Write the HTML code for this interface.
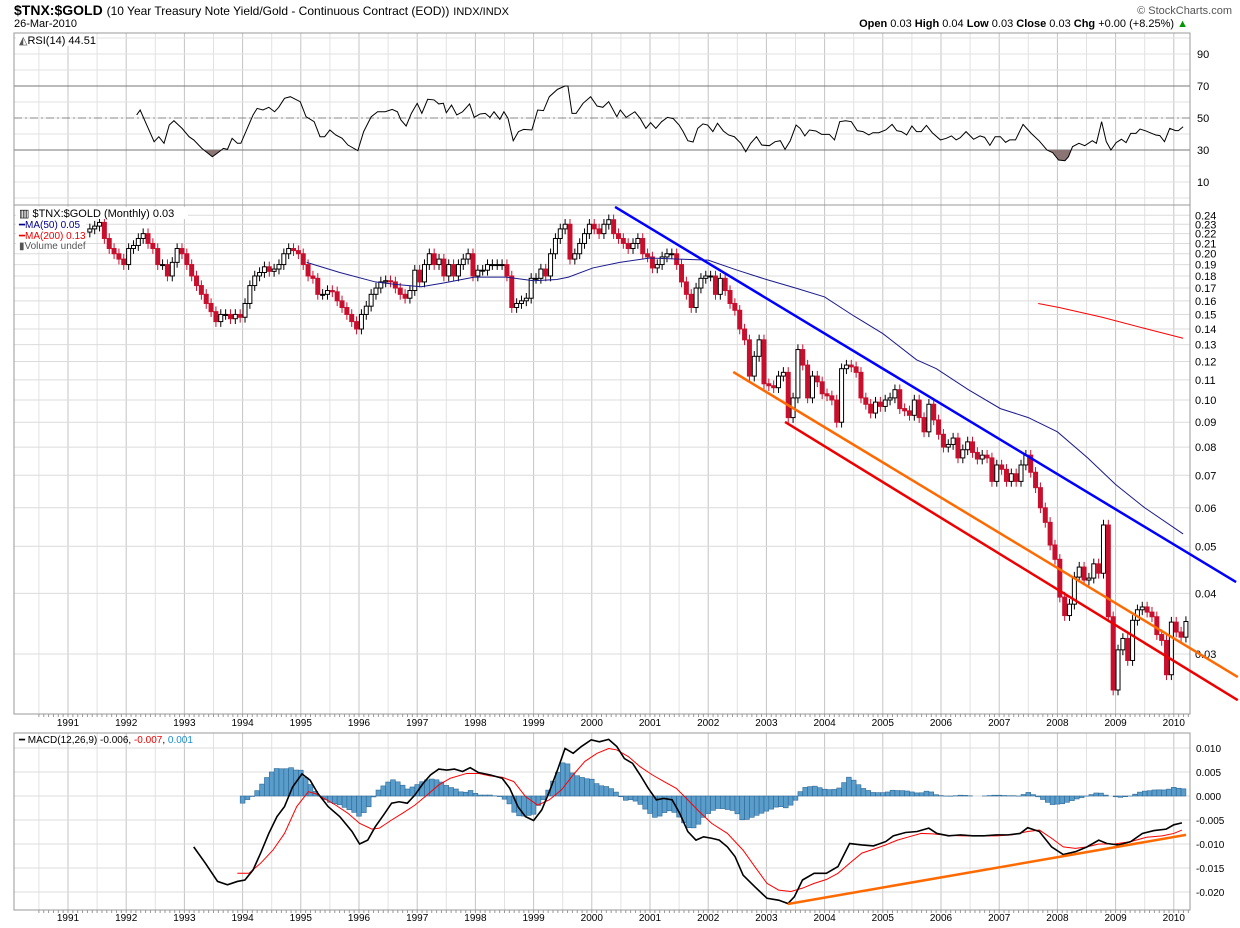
<!DOCTYPE html>
<html><head><meta charset="utf-8">
<style>
html,body{margin:0;padding:0;background:#fff;}
svg{display:block;font-family:"Liberation Sans",sans-serif;}
</style></head>
<body>
<svg id="chart" width="1240" height="928" viewBox="0 0 1240 928" xmlns="http://www.w3.org/2000/svg">
<rect x="0" y="0" width="1240" height="928" fill="#fff"/>
<text x="14" y="15" font-size="14" font-weight="bold">$TNX:$GOLD <tspan font-size="12" font-weight="normal">(10 Year Treasury Note Yield/Gold - Continuous Contract (EOD))</tspan> <tspan font-size="11" font-weight="normal">INDX/INDX</tspan></text>
<text x="14" y="27" font-size="11">26-Mar-2010</text>
<text x="1232" y="14" font-size="11" fill="#555" text-anchor="end">© StockCharts.com</text>
<text x="1188" y="27" font-size="11" text-anchor="end"><tspan font-weight="bold">Open</tspan> 0.03  <tspan font-weight="bold">High</tspan> 0.04  <tspan font-weight="bold">Low</tspan> 0.03  <tspan font-weight="bold">Close</tspan> 0.03  <tspan font-weight="bold">Chg</tspan> +0.00 (+8.25%) <tspan fill="#090">▲</tspan></text>
<g id="grid"></g>
<g id="rsi"></g>
<g id="main"></g>
<g id="macd"></g>
<g id="labels">
<rect x="16" y="34" width="80" height="12" fill="#fff"/>
<text x="19" y="44" font-size="11"><tspan fill="#555">◭</tspan>RSI(14) 44.51</text>
<rect x="16" y="207" width="172" height="12" fill="#fff"/>
<rect x="16" y="219" width="70" height="32" fill="#fff"/>
<text x="19" y="217" font-size="11">▥ $TNX:$GOLD (Monthly) 0.03</text>
<text x="19" y="228" font-size="10" fill="#00008b">━MA(50) 0.05</text>
<text x="19" y="239" font-size="10" fill="#e00">━MA(200) 0.13</text>
<text x="19" y="249" font-size="10" fill="#555">▮Volume undef</text>
<text x="19" y="743" font-size="10">━ MACD(12,26,9) -0.006, <tspan fill="#e00">-0.007</tspan>, <tspan fill="#1a8fd0">0.001</tspan></text>
</g>
</svg>
<script>
// ---------- DATA ----------
const closes1991 = [.225,.228,.232,.215,.205,.2,.195,.19];
const closes1992 = [.205,.208,.215,.22,.21,.205,.19,.19,.18,.192,.205,.2];
const closes1993 = [.19,.18,.172,.165,.158,.152,.145,.15,.15,.147,.15,.148];
const closes1994 = [.158,.172,.18,.183,.188,.184,.186,.19,.2,.205,.203,.2];
const closes1995 = [.19,.18,.178,.165,.165,.168,.167,.16,.155,.15,.145,.14];
const closes1996 = [.15,.156,.165,.17,.175,.176,.175,.17,.165,.162,.168,.185];
const closes1997 = [.175,.19,.2,.19,.195,.18,.19,.18,.19,.195,.2,.18];
const closes1998 = [.185,.185,.19,.19,.19,.19,.18,.155,.158,.16,.162,.178];
const closes1999 = [.178,.186,.18,.2,.215,.225,.23,.195,.2,.21,.22,.23];
const closes2000 = [.225,.22,.23,.235,.22,.215,.21,.205,.21,.215,.2,.197];
const closes2001 = [.187,.19,.197,.2,.2,.19,.175,.165,.155,.17,.178,.18];
const closes2002 = [.18,.165,.178,.168,.158,.153,.14,.133,.112,.123,.133,.108];
const closes2003 = [.107,.106,.112,.114,.092,.101,.127,.118,.101,.112,.109,.103];
const closes2004 = [.102,.1,.09,.116,.118,.117,.114,.101,.098,.094,.099,.097];
const closes2005 = [.1,.101,.105,.096,.095,.093,.1,.092,.086,.098,.091,.085];
const closes2006 = [.08,.081,.0835,.076,.079,.082,.078,.0756,.077,.076,.068,.0735];
const closes2007 = [.072,.068,.0705,.068,.0735,.077,.071,.066,.06,.056,.0503,.047];
const closes2008 = [.0393,.036,.038,.0432,.0453,.0426,.043,.046,.044,.0553,.0358,.0253];
const closes2009 = [.0306,.0323,.0291,.0352,.037,.0375,.0366,.0358,.0329,.032,.0272,.0349];
const closes2010 = [.0333,.0325,.035];
const firstMonth = 1991 + 4/12;

const ma50Years = [1995.1,1995.67,1996.28,1996.62,1997.07,1997.44,1997.98,1998.53,1999.0,1999.4,1999.6,2000.02,2000.48,2001.0,2001.5,2002.0,2002.5,2003.0,2003.5,2004.0,2004.5,2005.0,2005.58,2005.92,2006.47,2007.02,2007.5,2008.0,2008.52,2009.0,2009.5,2010.16];
const ma50Values = [.192,.183,.175,.173,.171,.174,.179,.179,.176,.177,.179,.187,.192,.196,.195,.194,.185,.177,.17,.163,.149,.137,.121,.116,.105,.096,.092,.086,.076,.067,.06,.053];
const ma200Years = [2007.67,2008.03,2008.77,2009.59,2010.16];
const ma200Values = [.158,.155,.148,.1395,.134];

const trendYears = {blue:[2000.4,2011.07], orange:[2002.43,2011.1], red:[2003.32,2011.1]};
const trendValues = {blue:[.2497,.0422], orange:[.1142,.0269], red:[.0901,.0241]};

const priceTicks = [.24,.23,.22,.21,.20,.19,.18,.17,.16,.15,.14,.13,.12,.11,.10,.09,.08,.07,.06,.05,.04,.03];
const yearTicks = [1991,1992,1993,1994,1995,1996,1997,1998,1999,2000,2001,2002,2003,2004,2005,2006,2007,2008,2009,2010];
const rsiTicks = [90,70,50,30,10];
const macdTicks = [0.010,0.005,0.000,-0.005,-0.010,-0.015,-0.020];

const rsiYears = [1992.18,1992.24,1992.34,1992.48,1992.56,1992.65,1992.74,1992.82,1992.96,1993.08,1993.16,1993.30,1993.48,1993.60,1993.67,1993.74,1993.82,1993.91,1993.97,1994.08,1994.18,1994.25,1994.35,1994.45,1994.55,1994.62,1994.72,1994.82,1994.99,1995.09,1995.23,1995.33,1995.41,1995.50,1995.60,1995.71,1995.81,1995.98,1996.08,1996.21,1996.32,1996.45,1996.57,1996.66,1996.72,1996.81,1996.90,1997.00,1997.08,1997.18,1997.29,1997.37,1997.45,1997.50,1997.59,1997.68,1997.78,1997.90,1997.98,1998.08,1998.17,1998.25,1998.32,1998.42,1998.49,1998.56,1998.65,1998.74,1998.83,1998.97,1999.07,1999.17,1999.27,1999.41,1999.54,1999.59,1999.66,1999.73,1999.85,1999.98,2000.09,2000.19,2000.29,2000.43,2000.49,2000.59,2000.74,2000.83,2000.93,2001.01,2001.10,2001.20,2001.30,2001.40,2001.50,2001.57,2001.65,2001.74,2001.82,2001.91,2001.99,2002.08,2002.16,2002.26,2002.35,2002.45,2002.56,2002.645,2002.73,2002.83,2002.92,2003.05,2003.15,2003.24,2003.32,2003.41,2003.51,2003.58,2003.66,2003.74,2003.85,2003.95,2004.08,2004.17,2004.26,2004.36,2004.46,2004.56,2004.66,2004.76,2004.83,2004.93,2005.05,2005.16,2005.24,2005.32,2005.41,2005.50,2005.58,2005.66,2005.75,2005.85,2005.99,2006.09,2006.18,2006.26,2006.33,2006.43,2006.56,2006.67,2006.75,2006.84,2006.93,2007.02,2007.11,2007.18,2007.28,2007.41,2007.55,2007.69,2007.82,2007.92,2008.02,2008.13,2008.19,2008.26,2008.37,2008.47,2008.60,2008.67,2008.76,2008.84,2008.92,2009.01,2009.10,2009.18,2009.26,2009.35,2009.42,2009.52,2009.58,2009.69,2009.76,2009.84,2009.93,2010.03,2010.08,2010.16];
const rsiValues = [51.9,55,46.7,35.2,38.3,34.2,45.6,48.3,43.5,38.3,36.3,31,25.8,29,31,30.4,37.3,34.2,34.2,43.5,51.9,56,55,56.7,53.9,56.7,62.3,63.3,60.2,50.8,47.7,38.3,38.3,42.5,39.4,37.3,33.1,29.6,41.5,50.8,53.9,53.9,55.4,53.9,48.8,45,52.9,59.2,52.9,61.7,61.3,58.8,59.2,53.3,58.1,51.9,53.9,58.8,50.4,52.5,52.9,50.4,53.9,49.2,53.9,49.8,35.8,41.5,42.9,42.5,55,54.6,63.3,67.9,70,70,52.9,52.9,59.2,63.3,57.5,56.7,60.2,50.8,55,50.4,53.9,49.8,43.5,47.1,43.5,47.7,50.4,49.6,45.6,41.5,35.8,35,43.5,46.3,45.6,41.5,46.7,41.9,39.4,38.3,34.2,28.9,34.2,38.3,33.1,32.7,35.2,35.8,30.4,35.8,45.6,43.5,38.8,42.5,41.9,39.8,39.8,36.3,47.7,48.3,47.7,42.1,41.5,39.4,40.8,40.8,42.5,46,42.1,41.5,39.4,45,41.5,41.5,45.4,40.8,36.3,37.3,38.8,36.3,37.7,41.5,36.7,38.8,37.9,32.9,38.3,38.3,34.8,36.3,36.3,46,40.4,35.6,30,28.3,23.75,23.3,25.8,32.1,34.2,32.7,35.8,34.2,47.7,35.2,30,34.6,36.7,34.6,40.4,40.4,43.1,41.9,41,39.4,39,35.2,43.5,42.1,42.1,44.51];

const macdYears = [1993.16,1993.36,1993.57,1993.74,1993.91,1994.04,1994.18,1994.31,1994.45,1994.59,1994.72,1994.86,1995.02,1995.16,1995.29,1995.47,1995.67,1995.88,1996.01,1996.15,1996.28,1996.42,1996.56,1996.69,1996.83,1996.96,1997.10,1997.23,1997.37,1997.51,1997.64,1997.78,1997.91,1998.05,1998.25,1998.46,1998.59,1998.73,1998.86,1999.00,1999.14,1999.27,1999.41,1999.54,1999.68,1999.82,1999.99,2000.13,2000.29,2000.43,2000.56,2000.70,2000.83,2000.97,2001.11,2001.24,2001.38,2001.51,2001.65,2001.79,2001.92,2002.06,2002.19,2002.33,2002.46,2002.60,2002.80,2003.01,2003.21,2003.37,2003.48,2003.62,2003.82,2004.03,2004.23,2004.43,2004.64,2004.84,2005.05,2005.18,2005.39,2005.59,2005.79,2005.93,2006.13,2006.34,2006.54,2006.74,2006.95,2007.15,2007.36,2007.49,2007.69,2007.90,2008.10,2008.31,2008.51,2008.71,2008.85,2009.05,2009.26,2009.46,2009.66,2009.87,2010.00,2010.14];
const macdValues = [-.0106,-.0140,-.0178,-.0185,-.0178,-.0175,-.0154,-.0119,-.0078,-.0043,-.0022,.0019,.0046,.0033,.0006,-.0022,-.0043,-.0074,-.0100,-.0092,-.0064,-.0040,-.0015,-.0012,-.0015,.0002,.0026,.0044,.0056,.0054,.0056,.0051,.0059,.0049,.0044,.0037,.0016,-.0022,-.0043,-.0051,-.0029,.0009,.0054,.0099,.0089,.0103,.0117,.0113,.0118,.0103,.0078,.0068,.0044,.0016,-.0008,-.0005,-.0008,-.0036,-.0074,-.0092,-.0085,-.0088,-.0092,-.0106,-.0126,-.0165,-.0189,-.0213,-.0217,-.0224,-.0210,-.0175,-.0161,-.0161,-.0147,-.0099,-.0102,-.0104,-.0095,-.0083,-.0076,-.0074,-.0067,-.0078,-.0083,-.0081,-.0083,-.0083,-.0081,-.0081,-.0078,-.0066,-.0074,-.0106,-.0122,-.0116,-.0106,-.0092,-.0099,-.0102,-.0095,-.0078,-.0072,-.0069,-.0060,-.0056];
const signalYears = [1993.91,1994.11,1994.31,1994.52,1994.72,1994.93,1995.13,1995.27,1995.40,1995.60,1995.81,1996.01,1996.22,1996.35,1996.56,1996.76,1996.96,1997.17,1997.37,1997.57,1997.85,1998.05,1998.25,1998.46,1998.66,1998.86,1999.07,1999.27,1999.48,1999.68,1999.88,2000.09,2000.29,2000.43,2000.63,2000.83,2001.04,2001.24,2001.45,2001.65,2001.85,2002.06,2002.33,2002.60,2002.80,2003.01,2003.21,2003.42,2003.62,2003.82,2004.03,2004.23,2004.43,2004.64,2004.84,2005.05,2005.25,2005.45,2005.66,2005.86,2006.13,2006.40,2006.68,2006.95,2007.22,2007.49,2007.69,2007.90,2008.10,2008.31,2008.51,2008.71,2008.98,2009.26,2009.53,2009.80,2010.00,2010.14];
const signalValues = [-.0161,-.0161,-.0140,-.0113,-.0078,-.0022,.0009,.0004,-.0005,-.0019,-.0036,-.0057,-.0069,-.0067,-.0050,-.0035,-.0019,.0002,.0023,.0037,.0047,.0047,.0042,.0039,.0030,-.0001,-.0019,-.0008,.0013,.0044,.0072,.0089,.0099,.0096,.0082,.0061,.0044,.0030,.0016,-.0008,-.0033,-.0057,-.0078,-.0113,-.0147,-.0182,-.0196,-.0199,-.0192,-.0182,-.0174,-.0161,-.0140,-.0119,-.0111,-.0102,-.0092,-.0085,-.0078,-.0079,-.0082,-.0083,-.0083,-.0083,-.0081,-.0074,-.0071,-.0088,-.0106,-.0109,-.0106,-.0100,-.0100,-.0095,-.0086,-.0083,-.0078,-.0071];
const macdTrendYears = [2003.37,2010.21];
const macdTrendValues = [-.0225,-.0081];
const histStart = 1994.0;

// ---------- SCALES ----------
const L=14, R=1190;
const X = yr => 68 + (yr-1991)*58.2;
const YP = v => 400 - 211*Math.log(v/0.1);
const YR = v => 150 - (v-30)*1.6;
const YM = v => 796 - v*4800;
const NS='http://www.w3.org/2000/svg';
function el(tag, attrs, parent){const e=document.createElementNS(NS,tag);for(const k in attrs)e.setAttribute(k,attrs[k]);parent.appendChild(e);return e;}
const grid=document.getElementById('grid'), rsiG=document.getElementById('rsi'), mainG=document.getElementById('main'), macdG=document.getElementById('macd');
const panels=[[33,205],[205,714],[733,910]];

panels.forEach(p=>{
  for(let yr=1990.5; yr<=2010.5; yr+=0.5){
    const x=X(yr); if(x<L||x>R) continue;
    const ln=el('line',{x1:x,x2:x,y1:p[0],y2:p[1],stroke:(yr%1===0)?'#c4c4c4':'#e2e2e2','stroke-width':1},grid);
    
    
  }
});
priceTicks.forEach(v=>{
  const y=YP(v);
  const ln=el('line',{x1:L,x2:R,y1:y,y2:y,stroke:'#dcdcdc'},grid);
  
  
  const t=el('text',{x:1195,y:y+4,'font-size':11},grid); t.textContent=v.toFixed(2);
  
  
});
for(let v=0; v<=100; v+=10){
  const y=YR(v); if(y<33||y>205) continue;
  const ln=el('line',{x1:L,x2:R,y1:y,y2:y,stroke:'#e2e2e2'},grid);
  
  
}
rsiTicks.forEach(v=>{
  const y=YR(v);
  if(v===70||v===30){const ln=el('line',{x1:L,x2:R,y1:y,y2:y,stroke:'#777'},grid);
    
    }
  if(v===50){const ln=el('line',{x1:L,x2:R,y1:y,y2:y,stroke:'#888','stroke-dasharray':'8,3,2,3'},grid);
    
    }
  const t=el('text',{x:1197,y:y+4,'font-size':11},grid); t.textContent=v;
  
  
});
macdTicks.forEach(v=>{
  const y=YM(v);
  const ln=el('line',{x1:L,x2:R,y1:y,y2:y,stroke:'#dcdcdc'},grid);
  
  
  const t=el('text',{x:1196,y:y+4,'font-size':10},grid); t.textContent=v.toFixed(3);
  
  
});
[726,921].forEach(yy=>{
  yearTicks.forEach(yr=>{
    const t=el('text',{x:X(yr),y:yy,'font-size':10,'text-anchor':'middle'},grid); t.textContent=yr;
    
    
  });
});
[714,910].forEach(yy=>{
  for(let m=0;m<240;m++){const x=X(1990.5+m/12); if(x<L||x>R) continue;
    const tk=el('line',{x1:x,x2:x,y1:yy,y2:yy+3,stroke:'#999'},grid);
    
    }
});
panels.forEach(p=>{
  const r=el('rect',{x:L,y:p[0],width:R-L,height:p[1]-p[0],fill:'none',stroke:'#999'},grid);
  
  
});

// ---------- RSI ----------
let rpts=rsiYears.map((yr,i)=>[X(yr),YR(rsiValues[i])]);
const defs=el('defs',{},rsiG);
const cp=el('clipPath',{id:'below30'},defs);
el('rect',{x:L,y:YR(30),width:R-L,height:205-YR(30)},cp);
const fillPts=[[rpts[0][0],YR(30)],...rpts,[rpts[rpts.length-1][0],YR(30)]];
const rf=el('polygon',{points:fillPts.map(p=>p.join(',')).join(' '),fill:'#8a7474','clip-path':'url(#below30)'},rsiG);


const rl=el('polyline',{points:rpts.map(p=>p.join(',')).join(' '),fill:'none',stroke:'#000','stroke-width':1},rsiG);



// ---------- PRICE ----------
const closes=[].concat(closes1991,closes1992,closes1993,closes1994,closes1995,closes1996,closes1997,closes1998,closes1999,closes2000,closes2001,closes2002,closes2003,closes2004,closes2005,closes2006,closes2007,closes2008,closes2009,closes2010);
closes.forEach((c,i)=>{
  const o = i===0 ? c*0.985 : closes[i-1];
  const hi=Math.max(o,c)*1.025, lo=Math.min(o,c)*0.975;
  const x=X(firstMonth+i/12+1/24);
  const up=c>=o;
  const w=el('line',{x1:x,x2:x,y1:YP(hi),y2:YP(lo),stroke:up?'#000':'#c8102e'},mainG);
  
  
  const yt=YP(Math.max(o,c)), yb=YP(Math.min(o,c));
  const b=el('rect',{x:x-2,y:yt,width:4,height:Math.max(1,yb-yt),fill:up?'#fff':'#c8102e',stroke:up?'#000':'#c8102e','stroke-width':1},mainG);
  
  
});
const ma50=el('polyline',{points:ma50Years.map((yr,i)=>X(yr)+','+YP(ma50Values[i])).join(' '),fill:'none',stroke:'#1a1a8c','stroke-width':1},mainG);


const ma200=el('polyline',{points:ma200Years.map((yr,i)=>X(yr)+','+YP(ma200Values[i])).join(' '),fill:'none',stroke:'#f00','stroke-width':1},mainG);


const tcol={blue:'#0000ff',orange:'#ff6a00',red:'#ee0000'};
Object.keys(trendYears).forEach(k=>{
  const ln=el('line',{x1:X(trendYears[k][0]),y1:YP(trendValues[k][0]),x2:X(trendYears[k][1]),y2:YP(trendValues[k][1]),stroke:tcol[k],'stroke-width':2.5},mainG);
  
  
});

// ---------- MACD ----------
function interp(xs,ys,x){if(x<=xs[0])return ys[0];for(let i=1;i<xs.length;i++){if(x<=xs[i]){const t=(x-xs[i-1])/(xs[i]-xs[i-1]);return ys[i-1]+t*(ys[i]-ys[i-1]);}}return ys[ys.length-1];}
for(let m=0; histStart+m/12<=2010.17; m++){
  const yr=histStart+m/12;
  const h=(interp(macdYears,macdValues,yr)-interp(signalYears,signalValues,yr))*1.0;
  const x=X(yr);
  const y0=YM(0), y1=YM(h);
  const b=el('rect',{x:x-2.4,y:Math.min(y0,y1),width:4.8,height:Math.abs(y1-y0),fill:'#5a9cca',stroke:'#2d6a98','stroke-width':0.6},macdG);
  
  
}
const sl=el('polyline',{points:signalYears.map((yr,i)=>X(yr)+','+YM(signalValues[i])).join(' '),fill:'none',stroke:'#f00','stroke-width':1},macdG);


const ml=el('polyline',{points:macdYears.map((yr,i)=>X(yr)+','+YM(macdValues[i])).join(' '),fill:'none',stroke:'#000','stroke-width':1.6},macdG);


const mt=el('line',{x1:X(macdTrendYears[0]),y1:YM(macdTrendValues[0]),x2:X(macdTrendYears[1]),y2:YM(macdTrendValues[1]),stroke:'#ff6a00','stroke-width':2.5},macdG);


</script>
</body></html>
